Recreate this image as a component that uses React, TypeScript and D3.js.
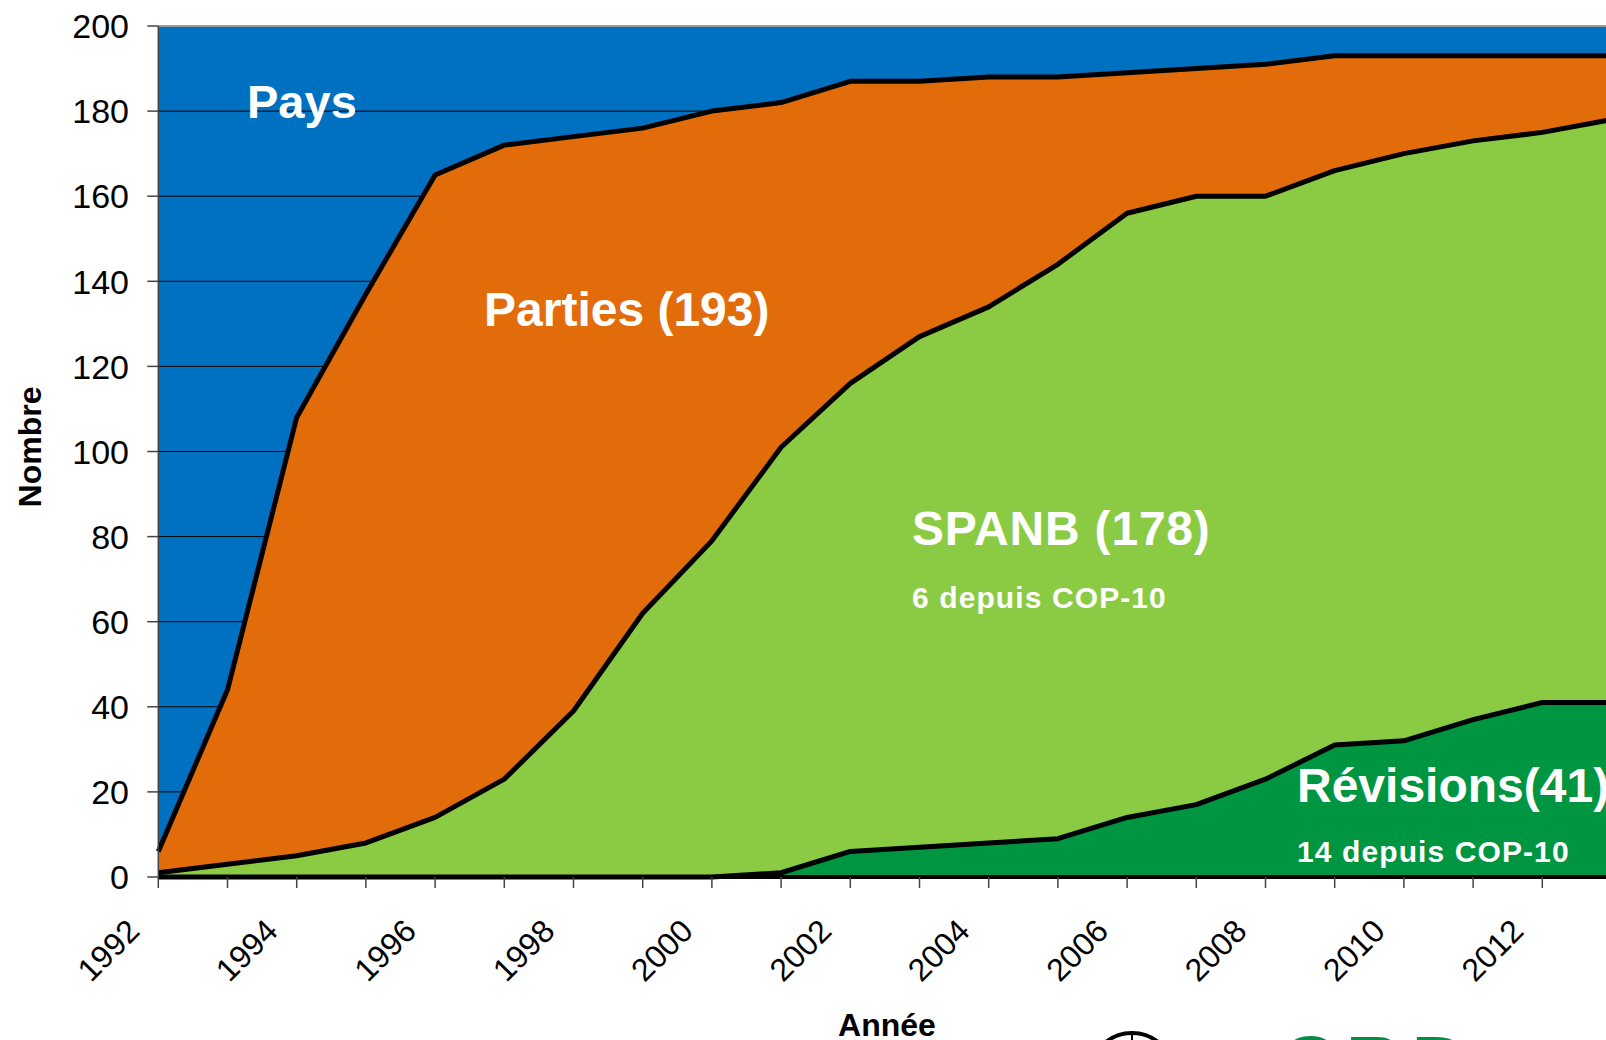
import React from "react";
import * as d3 from "d3";

const years = [1992, 1993, 1994, 1995, 1996, 1997, 1998, 1999, 2000, 2001, 2002, 2003, 2004, 2005, 2006, 2007, 2008, 2009, 2010, 2011, 2012, 2013];
const parties = [6, 44, 108, 137, 165, 172, 174, 176, 180, 182, 187, 187, 188, 188, 189, 190, 191, 193, 193, 193, 193, 193];
const spanb = [1, 3, 5, 8, 14, 23, 39, 62, 79, 101, 116, 127, 134, 144, 156, 160, 160, 166, 170, 173, 175, 178];
const revisions = [0, 0, 0, 0, 0, 0, 0, 0, 0, 1, 6, 7, 8, 9, 14, 17, 23, 31, 32, 37, 41, 41];
const yTicks = [0, 20, 40, 60, 80, 100, 120, 140, 160, 180, 200];
const xLabelYears = [1992, 1994, 1996, 1998, 2000, 2002, 2004, 2006, 2008, 2010, 2012];

const W = 1606;
const H = 1040;
const FONT = "'Liberation Sans', Arial, Helvetica, sans-serif";

export default function App() {
  const x = d3.scaleLinear().domain([1992, 2013]).range([158.3, 1611.5]);
  const y = d3.scaleLinear().domain([0, 200]).range([877, 26]);
  const plotLeft = x(1992);
  const plotRight = x(2013);

  const series = [
    { name: "Parties", values: parties, fill: "#E36C0A" },
    { name: "SPANB", values: spanb, fill: "#8ACB43" },
    { name: "Revisions", values: revisions, fill: "#009540" },
  ];

  const area = d3
    .area<number>()
    .x((_, i) => x(years[i]))
    .y0(y(0))
    .y1((d) => y(d));
  const line = d3
    .line<number>()
    .x((_, i) => x(years[i]))
    .y((d) => y(d));

  const allTicks = d3.range(1992, 2014);

  return (
    <svg width={W} height={H} style={{ position: "absolute", left: 0, top: 0, background: "#fff" }} fontFamily={FONT}>
      <rect x={plotLeft} y={y(200)} width={plotRight - plotLeft} height={y(0) - y(200)} fill="#0070C0" />
      {yTicks.map((t) => (
        <line key={"g" + t} x1={plotLeft} x2={plotRight} y1={y(t)} y2={y(t)} stroke={t === 200 ? "#9a9a9a" : "#000"} strokeWidth={t === 200 ? 2 : 1} />
      ))}
      {series.map((s) => (
        <path key={s.name + "a"} d={area(s.values) || ""} fill={s.fill} />
      ))}
      {series.map((s) => (
        <path key={s.name + "l"} d={line(s.values) || ""} fill="none" stroke="#000" strokeWidth={5} strokeLinejoin="round" />
      ))}
      <line x1={plotLeft} x2={plotRight} y1={y(0)} y2={y(0)} stroke="#000" strokeWidth={4} />
      <line x1={plotLeft} x2={plotLeft} y1={y(200)} y2={y(0)} stroke="#444" strokeWidth={1.5} />
      {yTicks.map((t) => (
        <g key={"yt" + t}>
          <line x1={plotLeft - 11} x2={plotLeft} y1={y(t)} y2={y(t)} stroke="#444" strokeWidth={1.5} />
          <text x={129} y={y(t)} dy="0.36em" textAnchor="end" fontSize={34} fill="#000">
            {t}
          </text>
        </g>
      ))}
      {allTicks.map((t) => (
        <line key={"xt" + t} x1={x(t)} x2={x(t)} y1={y(0)} y2={y(0) + 11} stroke="#444" strokeWidth={1.5} />
      ))}
      {xLabelYears.map((t) => (
        <text key={"xl" + t} transform={`translate(${x(t) - 17},${933}) rotate(-45)`} textAnchor="end" fontSize={32} fill="#000">
          {t}
        </text>
      ))}
      <text x={887} y={1036} textAnchor="middle" fontSize={32} fontWeight="bold" fill="#000">
        Année
      </text>
      <text transform="translate(41,447) rotate(-90)" textAnchor="middle" fontSize={32} fontWeight="bold" fill="#000">
        Nombre
      </text>
      <text x={247} y={118} fontSize={47} fontWeight="bold" fill="#fff">Pays</text>
      <text x={484} y={326} fontSize={48} fontWeight="bold" fill="#fff">Parties (193)</text>
      <text x={912} y={545} fontSize={48} fontWeight="bold" fill="#fff" letterSpacing={0.8}>SPANB (178)</text>
      <text x={912} y={608} fontSize={30} fontWeight="bold" fill="#fff" letterSpacing={1.1}>6 depuis COP-10</text>
      <text x={1297} y={802} fontSize={48} fontWeight="bold" fill="#fff">Révisions(41)</text>
      <text x={1297} y={862} fontSize={30} fontWeight="bold" fill="#fff" letterSpacing={1.1}>14 depuis COP-10</text>
      {/* partially visible logo */}
      <circle cx={1132} cy={1075} r={42} fill="none" stroke="#000" strokeWidth={4} />
      <line x1={1132} x2={1132} y1={1033} y2={1040} stroke="#000" strokeWidth={2} />
      <text x={1280} y={1092} fontSize={80} fontWeight="bold" fill="#0a8a4a" letterSpacing={8}>CBD</text>
    </svg>
  );
}
